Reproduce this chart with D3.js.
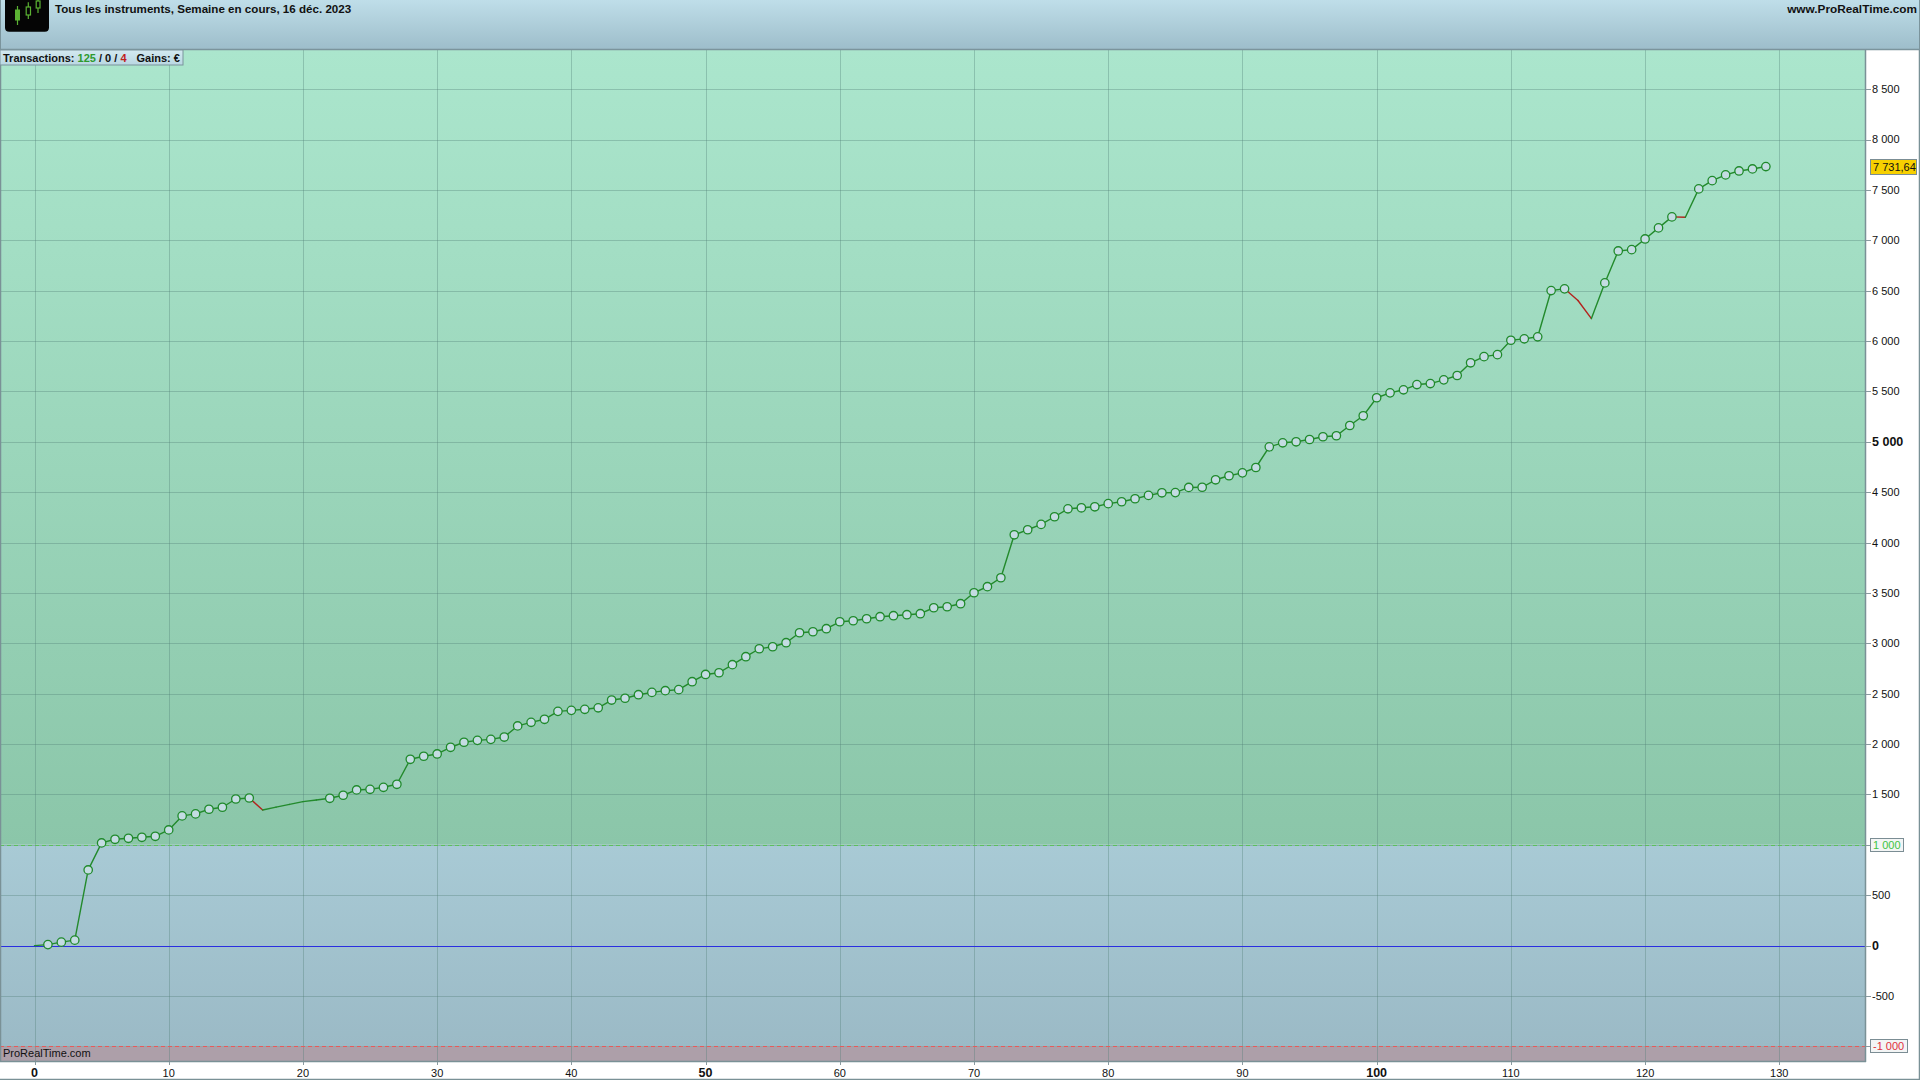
<!DOCTYPE html>
<html>
<head>
<meta charset="utf-8">
<script src="https://cdn.jsdelivr.net/npm/d3@7"></script>
<style>
html,body{margin:0;padding:0;background:#fff;}
svg{display:block;font-family:"Liberation Sans",Arial,sans-serif;}
</style>
</head>
<body>
<svg id="chart" width="1920" height="1080"></svg>
<script>
// ---------- DATA ----------
const tradeIndex = d3.range(0, 130);
const equity = [
  0, 10, 34, 54, 751, 1019, 1055, 1065, 1075, 1085,
  1148, 1287, 1307, 1353, 1373, 1455, 1465, 1346, 1374, 1401,
  1429, 1445, 1462, 1492, 1545, 1551, 1571, 1601, 1849, 1879,
  1902, 1968, 2018, 2037, 2047, 2070, 2180, 2216, 2246, 2325,
  2335, 2345, 2360, 2437, 2455, 2490, 2513, 2530, 2540, 2619,
  2691, 2708, 2788, 2867, 2946, 2966, 3006, 3105, 3115, 3145,
  3214, 3224, 3244, 3264, 3274, 3284, 3294, 3353, 3363, 3393,
  3502, 3562, 3651, 4077, 4127, 4180, 4256, 4335, 4345, 4355,
  4386, 4405, 4435, 4468, 4494, 4496, 4547, 4549, 4623, 4663,
  4692, 4745, 4950, 4990, 5000, 5023, 5050, 5060, 5162, 5258,
  5437, 5486, 5516, 5568, 5578, 5615, 5658, 5784, 5845, 5865,
  6008, 6022, 6042, 6501, 6518, 6402, 6223, 6577, 6894, 6907,
  7013, 7123, 7232, 7228, 7510, 7592, 7649, 7688, 7708, 7731.64
];
const noMarker = [0, 17, 18, 19, 20, 21, 115, 116, 123];
const xTicks = d3.range(0, 131, 10);
const yTicks = d3.range(-1000, 8501, 500);
const boldXTicks = [0, 50, 100];
const boldYTicks = [0, 5000];
const lowerLevel = -1000, upperLevel = 1000, zeroLevel = 0;
const titleText = "Tous les instruments, Semaine en cours, 16 déc. 2023";
const siteText = "www.ProRealTime.com";
const winCount = 125, neutralCount = 0, lossCount = 4;

// ---------- LAYOUT ----------
const W = 1920, H = 1080;
const plotL = 0, plotR = 1865, plotT = 50, plotB = 1061;

const x = d3.scaleLinear().domain([0, 130]).range([34.5, 1779.3]);
const y = d3.scaleLinear().domain([0, 5000]).range([945.6, 441.8]);

const fmtSpace = v => {
  const s = d3.format(",")(Math.abs(v)).replace(/,/g, " ");
  return (v < 0 ? "-" : "") + s;
};
const fmtVal = v => {
  const parts = d3.format(",.2f")(v).split(".");
  return parts[0].replace(/,/g, " ") + "," + parts[1];
};

const svg = d3.select("#chart");
const defs = svg.append("defs");

function vgrad(id, c1, c2) {
  const g = defs.append("linearGradient").attr("id", id)
    .attr("x1", 0).attr("y1", 0).attr("x2", 0).attr("y2", 1);
  g.append("stop").attr("offset", "0%").attr("stop-color", c1);
  g.append("stop").attr("offset", "100%").attr("stop-color", c2);
}
vgrad("gHead", "#bfdee9", "#9dbdca");
vgrad("gGreen", "#abe6cd", "#8bc6a9");
vgrad("gBlue", "#a8cad5", "#9bbac6");
vgrad("gLeg", "#d3e9f0", "#b9d7e2");

defs.append("clipPath").attr("id", "plotClip")
  .append("rect").attr("x", plotL).attr("y", plotT).attr("width", plotR - plotL).attr("height", plotB - plotT);

// background
svg.append("rect").attr("x", 0).attr("y", 0).attr("width", W).attr("height", H).attr("fill", "#ffffff");

// zones
const plot = svg.append("g").attr("clip-path", "url(#plotClip)");
plot.append("rect").attr("x", plotL).attr("width", plotR - plotL)
  .attr("y", plotT).attr("height", y(upperLevel) - plotT).attr("fill", "url(#gGreen)");
plot.append("rect").attr("x", plotL).attr("width", plotR - plotL)
  .attr("y", y(upperLevel)).attr("height", y(lowerLevel) - y(upperLevel)).attr("fill", "url(#gBlue)");
plot.append("rect").attr("x", plotL).attr("width", plotR - plotL)
  .attr("y", y(lowerLevel)).attr("height", plotB - y(lowerLevel)).attr("fill", "#ad9fa9");

// grid
plot.selectAll(".vg").data(xTicks).enter().append("line")
  .attr("x1", d => Math.round(x(d)) + 0.5).attr("x2", d => Math.round(x(d)) + 0.5)
  .attr("y1", plotT).attr("y2", plotB)
  .attr("stroke", "#4f7f76").attr("stroke-opacity", 0.35).attr("stroke-width", 1);
plot.selectAll(".hg").data(yTicks).enter().append("line")
  .attr("x1", plotL).attr("x2", plotR)
  .attr("y1", d => Math.round(y(d)) + 0.5).attr("y2", d => Math.round(y(d)) + 0.5)
  .attr("stroke", "#4f7f76").attr("stroke-opacity", 0.35).attr("stroke-width", 1);

// level lines
plot.append("line").attr("x1", plotL).attr("x2", plotR)
  .attr("y1", Math.round(y(upperLevel)) + 0.5).attr("y2", Math.round(y(upperLevel)) + 0.5)
  .attr("stroke", "#5cc05c").attr("stroke-dasharray", "4,3");
plot.append("line").attr("x1", plotL).attr("x2", plotR)
  .attr("y1", Math.round(y(lowerLevel)) + 0.5).attr("y2", Math.round(y(lowerLevel)) + 0.5)
  .attr("stroke", "#e85a5a").attr("stroke-dasharray", "4,3");
plot.append("line").attr("x1", plotL).attr("x2", plotR)
  .attr("y1", Math.round(y(zeroLevel)) + 0.5).attr("y2", Math.round(y(zeroLevel)) + 0.5)
  .attr("stroke", "#2a2ee0").attr("stroke-width", 1.2);

// equity segments
const segs = tradeIndex.slice(1).map(i => ({i, a: equity[i - 1], b: equity[i]}));
plot.selectAll(".seg").data(segs).enter().append("line")
  .attr("x1", d => x(d.i - 1)).attr("y1", d => y(d.a))
  .attr("x2", d => x(d.i)).attr("y2", d => y(d.b))
  .attr("stroke", d => d.b < d.a ? "#b3231e" : "#238a2c")
  .attr("stroke-width", 1.4).attr("stroke-linecap", "round");

// markers
const markerPts = tradeIndex.filter(i => noMarker.indexOf(i) < 0);
plot.selectAll(".pt").data(markerPts).enter().append("circle")
  .attr("cx", d => x(d)).attr("cy", d => y(equity[d])).attr("r", 4.2)
  .attr("fill", "#c4dce2").attr("stroke", "#1f8a2b").attr("stroke-width", 1.3);

// watermark bottom-left
svg.append("text").attr("x", 3).attr("y", plotB - 4).attr("font-size", 11)
  .attr("fill", "#111").text("ProRealTime.com");

// plot borders
svg.append("line").attr("x1", plotR + 0.5).attr("x2", plotR + 0.5).attr("y1", plotT).attr("y2", plotB + 1)
  .attr("stroke", "#7a9196").attr("stroke-width", 1.5);
svg.append("line").attr("x1", 0).attr("x2", plotR + 1).attr("y1", plotB + 0.5).attr("y2", plotB + 0.5)
  .attr("stroke", "#7a9196").attr("stroke-width", 1.5);
svg.append("line").attr("x1", 0.5).attr("x2", 0.5).attr("y1", 0).attr("y2", plotB)
  .attr("stroke", "#7a9196").attr("stroke-width", 1.5);

// right axis
const rAx = svg.append("g");
const normalY = yTicks.filter(v => v !== upperLevel && v !== lowerLevel && y(v) > plotT + 5);
rAx.selectAll(".rt").data(yTicks.filter(v => y(v) > plotT + 5)).enter().append("line")
  .attr("x1", plotR + 1).attr("x2", plotR + 6)
  .attr("y1", d => Math.round(y(d)) + 0.5).attr("y2", d => Math.round(y(d)) + 0.5)
  .attr("stroke", "#8a9aa0");
rAx.selectAll(".rl").data(normalY).enter().append("text")
  .attr("x", plotR + 7).attr("y", d => y(d)).attr("dy", "0.36em")
  .attr("font-size", d => boldYTicks.indexOf(d) >= 0 ? 12.5 : 11)
  .attr("font-weight", d => boldYTicks.indexOf(d) >= 0 ? "bold" : "normal")
  .attr("fill", "#111").text(d => fmtSpace(d));

function boxLabel(val, txt, color, bg, w) {
  const yy = y(val);
  rAx.append("rect").attr("x", plotR + 5.5).attr("y", Math.round(yy) - 6.5).attr("width", w).attr("height", 13)
    .attr("fill", bg).attr("stroke", "#7b8d94").attr("stroke-width", 1);
  rAx.append("text").attr("x", plotR + 8).attr("y", yy).attr("dy", "0.36em")
    .attr("font-size", 11).attr("fill", color).text(txt);
}
boxLabel(upperLevel, fmtSpace(upperLevel), "#3ec43e", "#f3f5f5", 33);
boxLabel(lowerLevel, fmtSpace(lowerLevel), "#e0303c", "#f3f5f5", 37);

// last value label
const lastV = equity[equity.length - 1];
rAx.append("rect").attr("x", plotR + 5.5).attr("y", Math.round(y(lastV)) - 7.5).attr("width", 46).attr("height", 15)
  .attr("fill", "#f7d000").attr("stroke", "#7b8d94");
rAx.append("text").attr("x", plotR + 8).attr("y", y(lastV)).attr("dy", "0.36em")
  .attr("font-size", 11).attr("fill", "#111").text(fmtVal(lastV));

// bottom axis
const bAx = svg.append("g");
bAx.selectAll(".bt").data(xTicks).enter().append("line")
  .attr("x1", d => Math.round(x(d)) + 0.5).attr("x2", d => Math.round(x(d)) + 0.5)
  .attr("y1", plotB + 1).attr("y2", plotB + 4).attr("stroke", "#8a9aa0");
bAx.selectAll(".bl").data(xTicks).enter().append("text")
  .attr("x", d => x(d)).attr("y", plotB + 16).attr("text-anchor", "middle")
  .attr("font-size", d => boldXTicks.indexOf(d) >= 0 ? 12.5 : 11)
  .attr("font-weight", d => boldXTicks.indexOf(d) >= 0 ? "bold" : "normal")
  .attr("fill", "#111").text(d => d);

// outer frame right/bottom
svg.append("line").attr("x1", W - 0.5).attr("x2", W - 0.5).attr("y1", 0).attr("y2", H)
  .attr("stroke", "#7a9196").attr("stroke-width", 1.5);
svg.append("line").attr("x1", 0).attr("x2", W).attr("y1", H - 0.5).attr("y2", H - 0.5)
  .attr("stroke", "#7a9196").attr("stroke-width", 1.5);

// header
svg.append("rect").attr("x", 0).attr("y", 0).attr("width", W).attr("height", plotT).attr("fill", "url(#gHead)");
svg.append("line").attr("x1", 0).attr("x2", W).attr("y1", plotT - 0.5).attr("y2", plotT - 0.5)
  .attr("stroke", "#7b949c").attr("stroke-width", 1.5);
svg.append("line").attr("x1", 0.5).attr("x2", 0.5).attr("y1", 0).attr("y2", plotT)
  .attr("stroke", "#7b949c");
svg.append("line").attr("x1", W - 0.5).attr("x2", W - 0.5).attr("y1", 0).attr("y2", plotT)
  .attr("stroke", "#7b949c");

// logo
const logo = svg.append("g");
logo.append("path").attr("d", "M5,0 H49 V27.5 Q49,31.7 44.8,31.7 H9.2 Q5,31.7 5,27.5 Z").attr("fill", "#050505");
const candleG = "#5bb233";
logo.append("line").attr("x1", 17.5).attr("x2", 17.5).attr("y1", 6).attr("y2", 25).attr("stroke", candleG).attr("stroke-width", 1.2);
logo.append("rect").attr("x", 15).attr("y", 9.5).attr("width", 5).attr("height", 11).attr("fill", candleG);
logo.append("line").attr("x1", 28.3).attr("x2", 28.3).attr("y1", 2.3).attr("y2", 19).attr("stroke", candleG).attr("stroke-width", 1.2);
logo.append("rect").attr("x", 26.2).attr("y", 7).attr("width", 4.3).attr("height", 8).attr("fill", "#050505").attr("stroke", candleG).attr("stroke-width", 1.2);
logo.append("line").attr("x1", 38).attr("x2", 38).attr("y1", 0).attr("y2", 13).attr("stroke", candleG).attr("stroke-width", 1.2);
logo.append("rect").attr("x", 36.2).attr("y", 1).attr("width", 3.8).attr("height", 7).attr("fill", "#050505").attr("stroke", candleG).attr("stroke-width", 1.2);

svg.append("text").attr("x", 55).attr("y", 13).attr("font-size", 11.6).attr("font-weight", "bold")
  .attr("fill", "#111").text(titleText);
svg.append("text").attr("x", W - 3).attr("y", 12.5).attr("font-size", 11.8).attr("font-weight", "bold")
  .attr("text-anchor", "end").attr("fill", "#111").text(siteText);

// legend box
const leg = svg.append("g");
leg.append("rect").attr("x", 0).attr("y", plotT).attr("width", 183).attr("height", 15)
  .attr("fill", "url(#gLeg)").attr("stroke", "#7b949c").attr("stroke-width", 1);
const lt = leg.append("text").attr("x", 3).attr("y", plotT + 11.5).attr("font-size", 11).attr("font-weight", "bold").attr("fill", "#111");
lt.append("tspan").text("Transactions: ");
lt.append("tspan").attr("fill", "#2e9a2e").text(winCount);
lt.append("tspan").text(" / " + neutralCount + " / ");
lt.append("tspan").attr("fill", "#c0201c").text(lossCount);
lt.append("tspan").attr("dx", 10).text("Gains: €");
</script>
</body>
</html>
